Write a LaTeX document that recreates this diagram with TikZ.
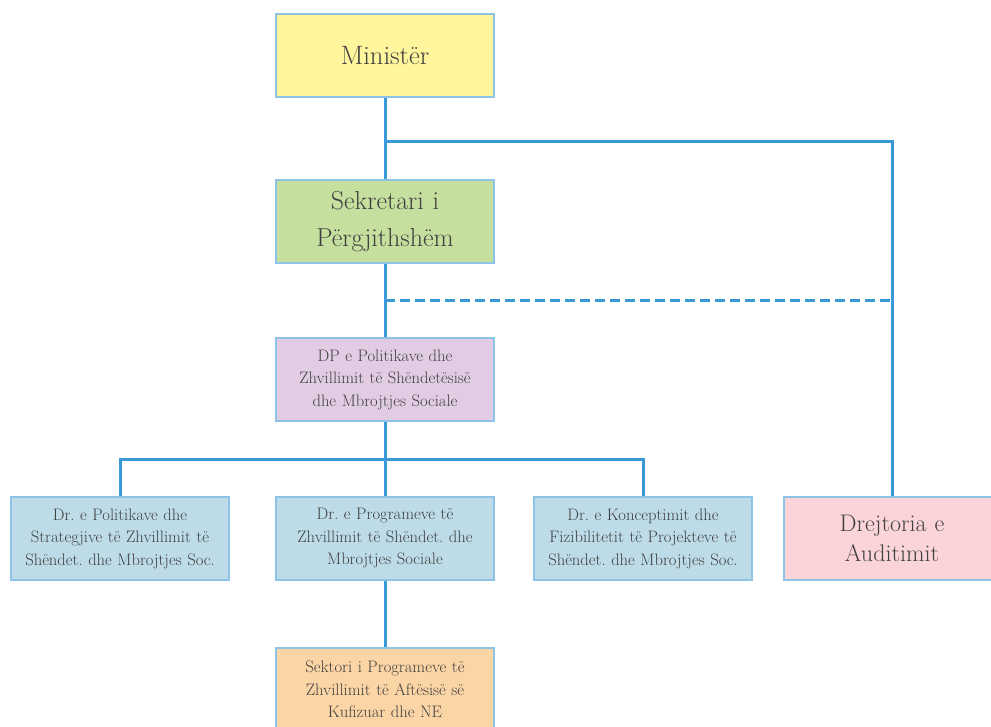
\documentclass[tikz,border=0pt]{standalone}
\usepackage{fontspec}
\frenchspacing
\definecolor{linec}{HTML}{3A9AD9}
\definecolor{borderc}{HTML}{8EC3E8}
\definecolor{textc}{HTML}{404040}
\definecolor{yellowc}{HTML}{FFF59D}
\definecolor{greenc}{HTML}{C5DF9F}
\definecolor{purplec}{HTML}{E1CCE4}
\definecolor{bluec}{HTML}{BDDCE8}
\definecolor{orangec}{HTML}{FCD5A6}
\definecolor{pinkc}{HTML}{FBD4D9}
\tikzset{
  box/.style={draw=borderc, line width=1.2pt, minimum width=218pt, minimum height=83pt,
    text width=214pt, align=center, inner sep=0pt, text=textc},
  conn/.style={draw=linec, line width=3pt},
  mintxt/.style={font=\fontsize{26.5}{32}\selectfont},
  audtxt/.style={font=\fontsize{24}{30}\selectfont},
  sectxt/.style={font=\fontsize{26}{37}\selectfont},
  smalltxt/.style={font=\fontsize{16.6}{22.5}\selectfont},
}
\begin{document}
\begin{tikzpicture}[x=1pt,y=-1pt]
\useasboundingbox (0,0) rectangle (991,726);
\clip (0,0) rectangle (991,726);
\node[box, mintxt, fill=yellowc] (min) at (385,55.5) {Ministër};
\node[box, sectxt, fill=greenc] (sek) at (385,221.5) {Sekretari i\\Përgjithshëm};
\node[box, smalltxt, fill=purplec] (dp) at (385,379.5) {DP e Politikave dhe\\Zhvillimit të Shëndetësisë\\dhe Mbrojtjes Sociale};
\node[box, smalltxt, fill=bluec] (drl) at (120,538.5) {Dr. e Politikave dhe\\Strategjive të Zhvillimit të\\Shëndet. dhe Mbrojtjes Soc.};
\node[box, smalltxt, fill=bluec] (drm) at (385,538.5) {Dr. e Programeve të\\Zhvillimit të Shëndet. dhe\\Mbrojtjes Sociale};
\node[box, smalltxt, fill=bluec] (drr) at (643,538.5) {Dr. e Konceptimit dhe\\Fizibilitetit të Projekteve të\\Shëndet. dhe Mbrojtjes Soc.};
\node[box, audtxt, fill=pinkc, minimum width=216pt] (aud) at (892,538.5) {Drejtoria e\\Auditimit};
\node[box, smalltxt, fill=orangec] (sekt) at (385,689.5) {Sektori i Programeve të\\Zhvillimit të Aftësisë së\\Kufizuar dhe NE};
\coordinate (j1) at (385,141);
\coordinate (d1) at (385,300);
\coordinate (d2) at (892,300);
\coordinate (j2) at (385,459);
\draw[conn] (min.south) -- (sek.north);
\draw[conn] (j1) -| (aud.north);
\draw[conn, dash pattern=on 10pt off 5pt] (d1) -- (d2);
\draw[conn] (sek.south) -- (dp.north);
\draw[conn] (dp.south) -- (drm.north);
\draw[conn] (j2) -| (drl.north);
\draw[conn] (j2) -| (drr.north);
\draw[conn] (drm.south) -- (sekt.north);
\end{tikzpicture}
\end{document}
